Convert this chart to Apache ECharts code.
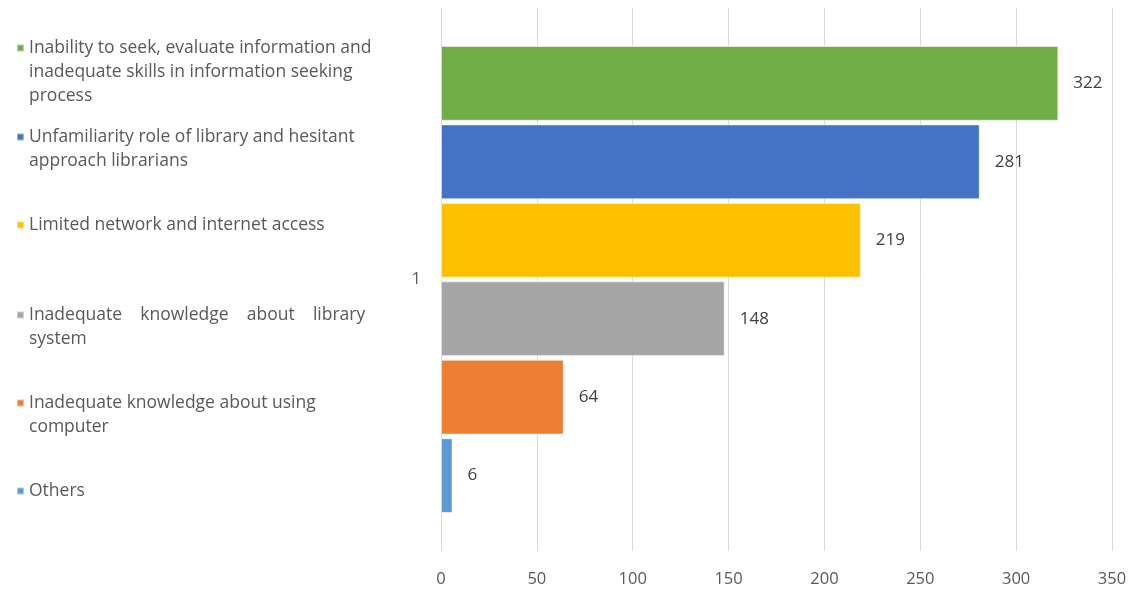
<!DOCTYPE html>
<html>
<head>
<meta charset="utf-8">
<script src="https://cdn.jsdelivr.net/npm/echarts@6/dist/echarts.min.js"></script>
<style>
  html, body { margin: 0; padding: 0; background: #fff; }
  #chart { width: 1130px; height: 590px; }
</style>
</head>
<body>
<div id="chart"></div>
<script>
// data (top bar first)
const categories = ['1'];
const seriesNames = [
  'Inability to seek, evaluate information and inadequate skills in information seeking process',
  'Unfamiliarity role of library and hesitant approach librarians',
  'Limited network and internet access',
  'Inadequate knowledge about library system',
  'Inadequate knowledge about using computer',
  'Others'
];
// legend text as wrapped in the original
const legendLines = [
  ['Inability to seek, evaluate information and', 'inadequate skills in information seeking', 'process'],
  ['Unfamiliarity role of library and hesitant', 'approach librarians'],
  ['Limited network and internet access'],
  ['Inadequate    knowledge    about    library', 'system'],
  ['Inadequate knowledge about using', 'computer'],
  ['Others']
];
const values = [322, 281, 219, 148, 64, 6];
const colors = ['#70AD47', '#4472C4', '#FFC000', '#A5A5A5', '#ED7D31', '#5B9BD5'];
const xTicks = { min: 0, max: 350, interval: 50 };

const chart = echarts.init(document.getElementById('chart'));

const lineH = 24;
// y of the first text line of each legend entry
const legendRows = [43, 132, 220, 310, 398, 486];

// text is centred on the icon, so blank lines are put in front
// to bring the first line level with the icon
const legends = seriesNames.map((name, i) => {
  const n = legendLines[i].length;
  const text = new Array(n - 1).fill('').concat(legendLines[i]).join('\n');
  return {
    data: [name],
    left: 11,
    top: legendRows[i] - (2 * n - 1) * lineH / 2,
    orient: 'vertical',
    icon: 'rect',
    itemWidth: 7,
    itemHeight: 7,
    itemGap: 0,
    selectedMode: false,
    formatter: () => text,
    textStyle: {
      color: '#595959',
      fontSize: 17.5,
      fontFamily: 'Open Sans',
      lineHeight: lineH
    }
  };
});

const series = seriesNames.map((name, i) => ({
  name: name,
  type: 'bar',
  data: [values[i]],
  barGap: '5%',
  barCategoryGap: '14%',
  itemStyle: { color: colors[i], borderColor: 'rgba(255,255,255,0.5)', borderWidth: 1 },
  label: {
    show: true,
    position: 'right',
    distance: 15,
    color: '#404040',
    fontSize: 17,
    fontFamily: 'Open Sans'
  }
}));

chart.setOption({
  animation: false,
  textStyle: { fontFamily: 'Open Sans' },
  legend: legends,
  grid: { left: 441, right: 18, top: 8, bottom: 39 },
  xAxis: {
    type: 'value',
    min: xTicks.min,
    max: xTicks.max,
    interval: xTicks.interval,
    axisLine: { show: false },
    axisTick: { show: false },
    axisLabel: { color: '#595959', fontSize: 16.5, margin: 20 },
    splitLine: { show: true, lineStyle: { color: '#D9D9D9', width: 1 } }
  },
  yAxis: {
    type: 'category',
    data: categories,
    inverse: true,
    axisLine: { show: false },
    axisTick: { show: false },
    axisLabel: { color: '#595959', fontSize: 16.5, margin: 20 }
  },
  series: series
});
</script>
</body>
</html>
